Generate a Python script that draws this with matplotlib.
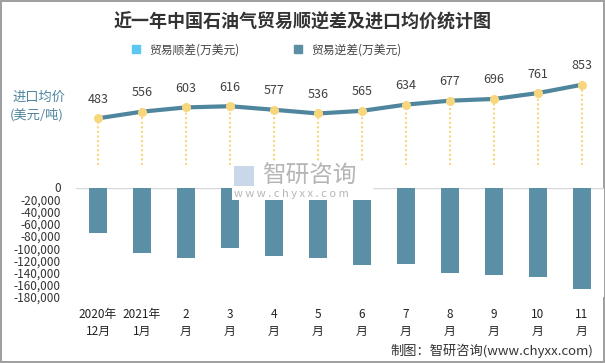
import matplotlib.pyplot as plt
from matplotlib.lines import Line2D
from matplotlib.patches import Rectangle

plt.rcParams['font.family'] = ['Noto Sans CJK SC', 'DejaVu Sans']

months = ["2020年\n12月", "2021年\n1月", "2\n月", "3\n月", "4\n月", "5\n月",
          "6\n月", "7\n月", "8\n月", "9\n月", "10\n月", "11\n月"]
surplus = [0, 0, 0, 0, 0, 0, 0, 0, 0, 0, 0, 0]
deficit = [-75400, -107300, -115600, -99000, -113400, -116700,
           -128300, -126600, -141500, -144800, -148000, -167900]
price = [483, 556, 603, 616, 577, 536, 565, 634, 677, 696, 761, 853]
yticks = [0, -20000, -40000, -60000, -80000, -100000, -120000,
          -140000, -160000, -180000]

bar_color = "#5B8FA6"
line_color = "#4F869E"
dot_color = "#F7D67C"
x = list(range(len(months)))

fig = plt.figure(figsize=(6.05, 3.63), dpi=100)
fig.patch.set_edgecolor("#A0A0A0")
fig.patch.set_linewidth(1.5)

W, H = 605, 363
left = 76 / W
width = 528 / W

# bar axes
ax = fig.add_axes([left, 1 - 296.7 / H, width, (296.7 - 187.5) / H])
ax.bar(x, surplus, width=0.4, color="#5BC8F2")
ax.bar(x, deficit, width=0.4, color=bar_color)
ax.set_xlim(-0.5, len(months) - 0.5)
ax.set_ylim(-180000, 0)
ax.set_yticks(yticks)
ax.set_yticklabels([f"{v:,}" for v in yticks], fontsize=8.5, color="#333333")
ax.set_xticks(x)
ax.set_xticklabels(months, fontsize=8.5, color="#222222", linespacing=1.45)
ax.tick_params(length=0, pad=11)
ax.tick_params(axis="x", pad=8)
for s in ax.spines.values():
    s.set_visible(False)
ax.axhline(0, color="#D9D9D9", linewidth=1, zorder=0)

# line axes
lax = fig.add_axes([left, 1 - 187 / H, width, 127 / H])
lax.set_xlim(-0.5, len(months) - 0.5)
lax.set_ylim(-273.6, 1125)
lax.vlines(x, -31, price, colors=dot_color, linestyles=(0, (1, 1.2)), linewidth=1.5)
lax.plot(x, price, color=line_color, linewidth=3, solid_capstyle="butt")
lax.plot(x, price, "o", color=dot_color, markersize=5.5, zorder=5)
for xi, v in zip(x, price):
    lax.annotate(str(v), (xi, v), xytext=(0, 9), textcoords="offset points",
                 ha="center", va="bottom", fontsize=9, color="#404040")
lax.axis("off")

fig.text(0.5, 1 - 22 / H, "近一年中国石油气贸易顺逆差及进口均价统计图",
         ha="center", va="center", fontsize=13, fontweight="bold", color="#333333")

handles = [Line2D([], [], marker="s", linestyle="", color="#5BC8F2", markersize=6),
           Line2D([], [], marker="s", linestyle="", color=bar_color, markersize=6)]
fig.legend(handles, ["贸易顺差(万美元)", "贸易逆差(万美元)"], loc="center",
           bbox_to_anchor=(263 / W, 1 - 50 / H), ncol=2, frameon=False, fontsize=8.5,
           handletextpad=0.1, columnspacing=4.0, labelcolor="#444444")

fig.text(12 / W, 1 - 97 / H, "进口均价", fontsize=9.5, color="#4F869E", va="center")
fig.text(10 / W, 1 - 115 / H, "(美元/吨)", fontsize=9.5, color="#4F869E", va="center")

# watermark
fig.patches.append(Rectangle((232 / W, 1 - 200 / H), 141 / W, 38 / H,
                             transform=fig.transFigure, facecolor="white",
                             edgecolor="none", zorder=10))
fig.patches.append(Rectangle((234 / W, 1 - 186 / H), 20 / W, 20 / H,
                             transform=fig.transFigure, facecolor="#C9D7EA",
                             edgecolor="none", zorder=11))
fig.text(262 / W, 1 - 176 / H, "智研咨询", fontsize=17, color="#B5B5B5",
         va="center", zorder=12)
fig.text(234 / W, 1 - 194 / H, "w w w . c h y x x . c o m", fontsize=8,
         color="#B5B5B5", va="center", zorder=12)

fig.text(593 / W, 1 - 351 / H, "制图：智研咨询(www.chyxx.com)", ha="right",
         va="center", fontsize=9.5, color="#333333")

fig.savefig("out.png", dpi=100)
